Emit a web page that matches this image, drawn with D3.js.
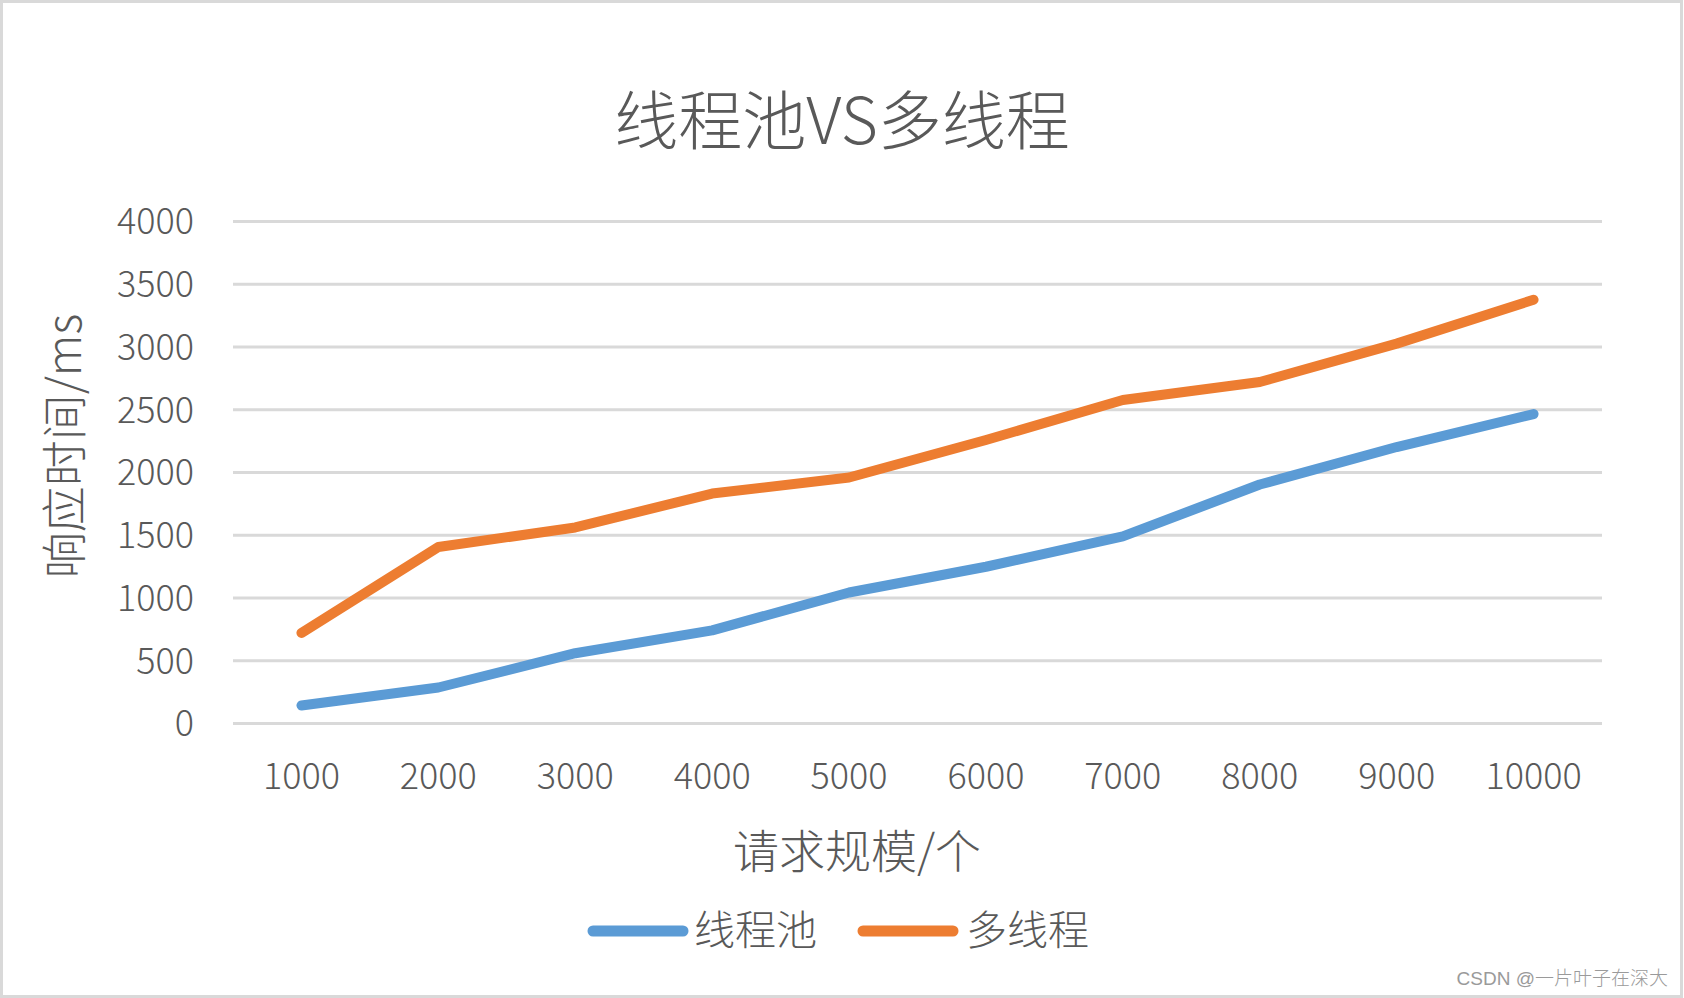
<!DOCTYPE html>
<html>
<head>
<meta charset="utf-8">
<script src="https://cdn.jsdelivr.net/npm/d3@7"></script>
<style>
  html, body { margin: 0; padding: 0; background: #fff; }
  svg { display: block; }
  text { font-family: "Noto Sans CJK SC", "Noto Sans", sans-serif; font-weight: 300; }
</style>
</head>
<body>
<svg id="chart" width="1684" height="998"></svg>
<script>
const categories = ["1000","2000","3000","4000","5000","6000","7000","8000","9000","10000"];
const seriesNames = ["线程池", "多线程"];
const poolValues  = [140, 283, 556, 738, 1040, 1245, 1487, 1900, 2199, 2462];
const multiValues = [718, 1402, 1558, 1828, 1956, 2255, 2574, 2717, 3023, 3372];
const yTicks = [0, 500, 1000, 1500, 2000, 2500, 3000, 3500, 4000];
const titleText = "线程池VS多线程";
const xTitle = "请求规模/个";
const yTitle = "响应时间/ms";
const watermark = "CSDN @一片叶子在深大";

const colors = ["#5B9BD5", "#ED7D31"];
const textColor = "#595959";
const W = 1684, H = 998;
const plotLeft = 233, plotRight = 1602, plotTop = 221, plotBottom = 723;

const svg = d3.select("#chart");

// frame
svg.append("rect").attr("x", 1.5).attr("y", 1.5).attr("width", W - 4).attr("height", H - 3)
  .attr("fill", "#fff").attr("stroke", "#D9D9D9").attr("stroke-width", 3);

const x = d3.scaleBand().domain(categories).range([plotLeft, plotRight]).padding(0);
const y = d3.scaleLinear().domain([0, 4000]).range([plotBottom, plotTop]);

// y axis with gridlines
const yAxis = svg.append("g").attr("transform", `translate(${plotLeft},0)`)
  .call(d3.axisLeft(y).tickValues(yTicks).tickSize(-(plotRight - plotLeft)).tickPadding(39).tickFormat(d3.format("d")));
yAxis.select(".domain").remove();
yAxis.selectAll(".tick line").attr("stroke", "#D9D9D9").attr("stroke-width", 3.2);
yAxis.selectAll(".tick text").attr("fill", textColor).style("font-size", "36px")
  .attr("dy", "0.36em");

// x axis
const xAxis = svg.append("g").attr("transform", `translate(0,${plotBottom})`)
  .call(d3.axisBottom(x).tickSize(0));
xAxis.select(".domain").remove();
xAxis.selectAll(".tick text").attr("fill", textColor).style("font-size", "36px")
  .attr("y", 53).attr("dy", "0.36em");

// lines
const line = d3.line().x((d, i) => x(categories[i]) + x.bandwidth() / 2).y(d => y(d));
[poolValues, multiValues].forEach((vals, k) => {
  svg.append("path").datum(vals).attr("d", line)
    .attr("fill", "none").attr("stroke", colors[k]).attr("stroke-width", 10)
    .attr("stroke-linecap", "round").attr("stroke-linejoin", "round");
});

// title
svg.append("text").attr("x", 842).attr("y", 116).attr("text-anchor", "middle")
  .attr("dominant-baseline", "central").attr("fill", textColor).style("font-size", "64px").text(titleText);

// axis titles
svg.append("text").attr("x", 857).attr("y", 848).attr("text-anchor", "middle")
  .attr("dominant-baseline", "central").attr("fill", textColor).style("font-size", "46px").text(xTitle);
svg.append("text").attr("transform", "translate(61,446) rotate(-90)").attr("text-anchor", "middle")
  .attr("dominant-baseline", "central").attr("fill", textColor).style("font-size", "46px").text(yTitle);

// legend
const legendItems = [{x1: 593, x2: 683, tx: 694}, {x1: 863, x2: 953, tx: 966}];
legendItems.forEach((it, k) => {
  svg.append("line").attr("x1", it.x1).attr("x2", it.x2).attr("y1", 931).attr("y2", 931)
    .attr("stroke", colors[k]).attr("stroke-width", 11).attr("stroke-linecap", "round");
  svg.append("text").attr("x", it.tx).attr("y", 927).attr("dominant-baseline", "central")
    .attr("fill", textColor).style("font-size", "41px").text(seriesNames[k]);
});

// watermark
svg.append("text").attr("x", 1668).attr("y", 985).attr("text-anchor", "end")
  .attr("fill", "#9a9a9a").style("font-size", "19px")
  .style("font-family", "'Liberation Sans', 'Noto Sans CJK SC', sans-serif").text(watermark);
</script>
</body>
</html>
